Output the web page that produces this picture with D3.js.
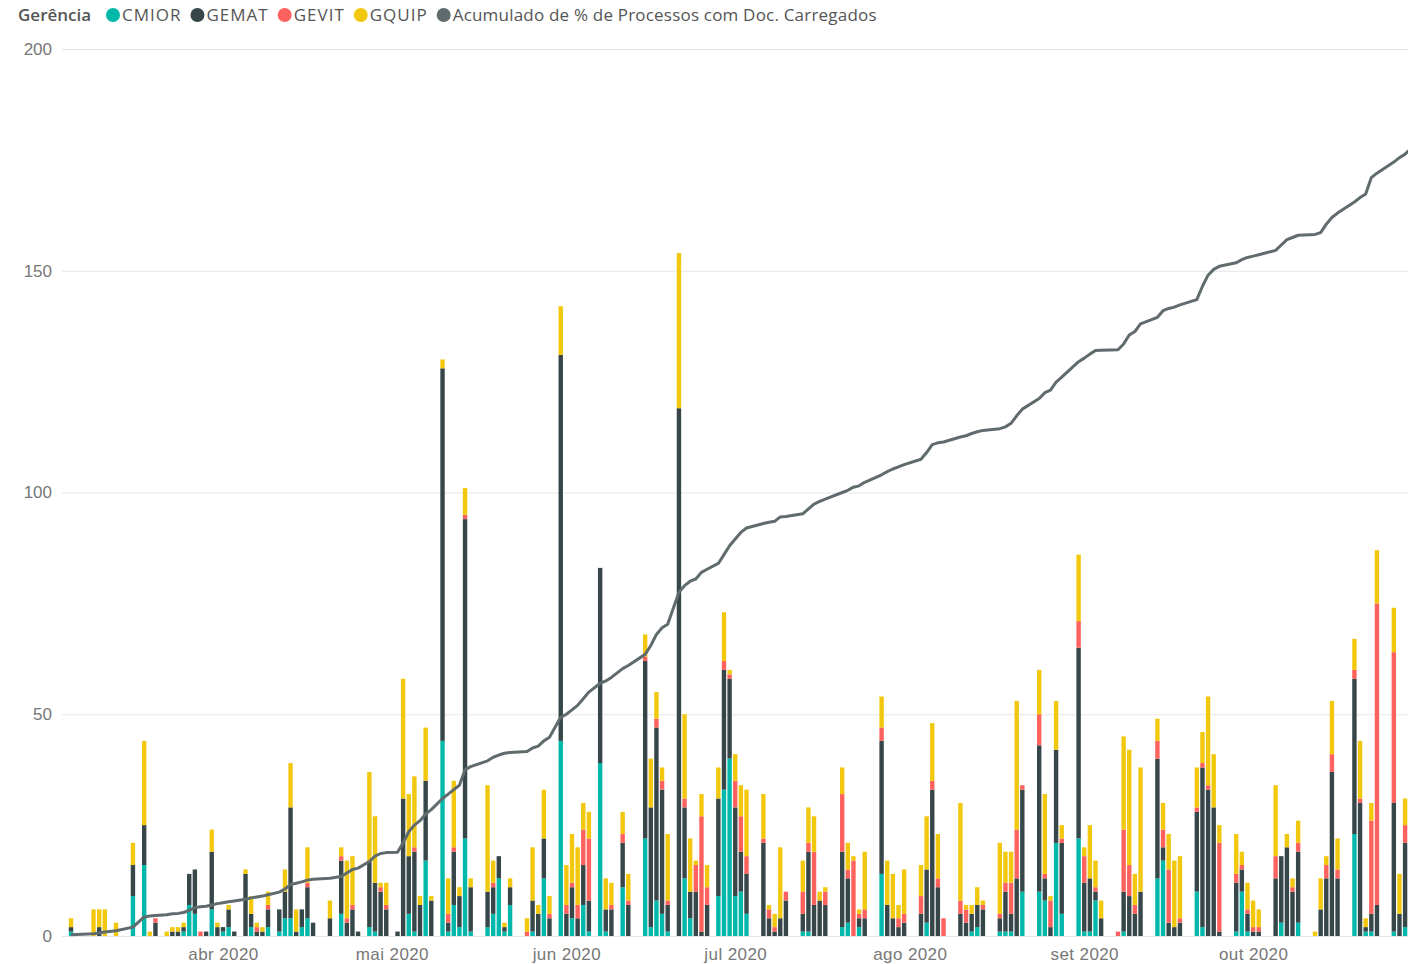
<!DOCTYPE html>
<meta charset="utf-8">
<style>
body { margin: 0; background: #fff; font-family: "Segoe UI", "Open Sans", sans-serif; }
.axis .tick text { fill: #777; font-size: 17px; }
.axis path { display: none; }
.legend text { font-size: 17px; fill: #555; }
</style>
<body>
<svg id="svg" width="1408" height="964"></svg>
<script src="https://cdnjs.cloudflare.com/ajax/libs/d3/7.8.5/d3.min.js"></script>
<script>
// days with data (2020), one month per line
const dates = [
  "03-05","03-09","03-10","03-11","03-13","03-16","03-18","03-19","03-20","03-22","03-23","03-24","03-25","03-26","03-27","03-28","03-29","03-30","03-31",
  "04-01","04-02","04-03","04-05","04-06","04-07","04-08","04-09","04-11","04-12","04-13","04-14","04-15","04-16","04-17","04-20","04-22","04-23","04-24","04-25","04-27","04-28","04-29","04-30",
  "05-02","05-03","05-04","05-05","05-06","05-07","05-08","05-10","05-11","05-12","05-13","05-14","05-15","05-18","05-19","05-20","05-21","05-22","05-25","05-26","05-27","05-28","05-29","05-31",
  "06-01","06-02","06-03","06-04","06-05","06-07","06-08","06-09","06-11","06-12","06-15","06-16","06-17","06-18","06-19","06-21","06-22","06-23","06-24","06-25","06-26","06-28","06-29","06-30",
  "07-01","07-02","07-03","07-06","07-07","07-08","07-09","07-10","07-13","07-14","07-15","07-16","07-17","07-20","07-21","07-22","07-23","07-24","07-27","07-28","07-29","07-30","07-31",
  "08-03","08-04","08-05","08-06","08-07","08-10","08-11","08-12","08-13","08-14","08-17","08-18","08-19","08-20","08-21","08-24","08-25","08-26","08-27","08-28","08-31",
  "09-01","09-02","09-03","09-04","09-07","09-08","09-09","09-10","09-11","09-14","09-15","09-16","09-17","09-18","09-21","09-22","09-23","09-24","09-25","09-28","09-29","09-30",
  "10-01","10-02","10-05","10-06","10-07","10-08","10-09","10-12","10-13","10-14","10-15","10-16","10-19","10-20","10-21","10-22","10-23","10-26","10-27","10-28","10-29"
];

const cmior = [
  1,0,0,0,0,9,16,0,0,0,0,0,1,7,5,0,0,6,0,
  1,2,0,0,2,0,0,2,1,4,4,0,2,4,0,0,5,0,0,0,2,1,0,0,
  0,0,5,1,0,17,0,44,1,7,2,22,1,2,5,13,1,7,0,1,0,13,0,44,
  0,4,0,7,1,39,1,0,11,0,22,2,8,5,1,0,13,4,0,0,0,9,33,40,
  9,10,5,0,0,0,0,0,1,1,0,0,0,2,3,0,2,0,14,0,0,0,0,
  0,3,0,0,0,0,0,1,2,0,1,1,1,0,10,10,8,0,21,5,22,
  1,1,8,0,0,1,0,0,0,13,17,0,0,0,10,2,0,0,0,1,10,1,
  0,0,0,3,0,0,3,0,0,0,0,0,23,0,1,1,0,1,0,2,3
];
const gemat = [
  1,0,2,0,0,7,9,0,3,0,1,1,1,7,10,0,1,13,2,
  1,4,1,14,3,1,1,4,5,6,25,1,4,7,3,4,12,3,6,1,15,11,10,6,
  1,31,13,18,7,18,8,84,2,12,7,72,10,8,6,5,1,4,0,7,5,9,4,87,
  5,7,4,9,7,44,5,6,10,7,40,27,39,28,6,119,16,6,10,1,7,22,27,18,
  20,9,9,21,4,1,4,8,4,18,7,8,7,17,10,0,2,4,30,7,4,2,3,
  5,12,33,11,0,5,3,4,5,6,3,9,4,13,23,33,5,2,21,16,43,
  11,12,2,4,0,9,9,5,10,27,3,3,2,3,18,36,33,29,1,11,5,4,
  1,1,13,15,20,10,16,0,6,13,37,13,35,30,1,4,7,29,5,19,25
];
const gevit = [
  0,0,0,0,0,0,0,0,1,0,0,0,0,0,0,1,0,0,0,
  0,0,0,0,0,1,0,1,0,0,0,0,0,1,0,0,1,1,1,0,0,0,1,1,
  0,0,0,1,0,0,0,0,2,1,0,1,0,0,1,0,0,0,1,0,0,0,1,0,
  2,1,3,8,14,0,0,1,2,1,1,0,2,2,1,0,2,0,6,26,4,0,2,1,
  6,8,4,1,2,1,0,2,5,2,12,0,3,13,2,17,1,2,3,0,0,2,2,
  4,0,2,2,4,3,3,0,0,1,1,2,7,11,1,7,1,6,0,1,6,
  6,0,1,0,1,14,7,2,0,4,4,12,0,1,1,1,1,0,20,2,1,1,
  1,1,5,0,0,1,2,0,0,3,4,2,2,1,0,21,68,34,0,4,3
];
const gquip = [
  2,6,4,6,3,5,19,1,0,1,1,1,1,0,0,0,0,5,1,
  0,1,0,1,4,1,1,3,0,5,10,5,0,8,0,4,2,13,11,0,20,15,1,5,
  0,27,14,16,2,12,1,2,8,15,2,6,2,24,5,0,1,2,3,12,2,11,4,11,
  9,11,13,6,6,0,7,5,5,6,5,11,6,3,15,35,19,12,1,5,5,7,11,1,
  6,7,15,10,1,3,16,0,7,8,8,2,1,6,6,1,1,13,7,10,10,3,10,
  7,12,13,10,0,22,1,2,4,1,16,7,7,29,0,10,18,1,11,3,15,
  2,12,6,4,0,21,26,7,28,5,6,8,15,14,9,7,20,12,4,9,3,6,
  6,4,16,0,3,2,5,1,7,2,12,7,7,13,2,4,12,10,9,6,8
];
const acumulado = [
  0.3,0.5,0.7,0.9,1.2,2.0,4.3,4.5,4.6,4.8,5.0,5.1,5.3,5.8,6.4,6.6,6.7,7.0,7.3,
  7.5,7.7,7.9,8.3,8.6,8.8,9.0,9.3,9.9,10.6,11.6,11.9,12.2,12.6,12.8,13.0,13.4,14.2,15.0,15.3,16.8,18.0,18.6,18.8,
  18.9,21,23.5,25,26,27.5,28.5,31,32,33,34,37.5,38.2,39.5,40.3,40.8,41.2,41.4,41.6,42.4,42.8,44,44.8,49.3,
  50,51,52,53.5,55,57,57.5,58.3,60.3,61,63.5,65.5,68,69.5,70.3,77.5,79,80,80.5,82,82.7,84,86,88,
  89.5,91,92,93,93.3,93.5,94.5,94.6,95.2,96.3,97.4,98,98.5,100,100.5,101.2,101.5,102.3,104,104.7,105.3,105.8,106.3,
  107.5,109,110.8,111.2,111.4,112.5,112.8,113.3,113.7,114,114.4,114.8,115.6,117.3,118.8,121.2,122.5,123.1,124.9,126,129.5,
  130.3,131.2,132,132.1,132.2,133.5,135.5,136.3,138,139.5,141,141.5,141.8,142.3,143.5,146.5,149,150.3,151,151.8,152.5,153,
  153.3,153.6,154.6,155.8,157,157.5,158,158.2,158.6,160.5,162,163,165.5,166.5,167.3,171,172,174.5,175.5,176.3,177.5
];

const seriesNames = ["CMIOR", "GEMAT", "GEVIT", "GQUIP"];
const lineName = "Acumulado de % de Processos com Doc. Carregados";
const yTicks = [0, 50, 100, 150, 200];
const monthTicks = ["2020-04-01","2020-05-01","2020-06-01","2020-07-01","2020-08-01","2020-09-01","2020-10-01"];
const monthLabels = ["abr 2020","mai 2020","jun 2020","jul 2020","ago 2020","set 2020","out 2020"];

const colors = {CMIOR: "#01B8AA", GEMAT: "#374649", GEVIT: "#FD625E", GQUIP: "#F2C80F"};
const lineColor = "#5F6B6D";

const parse = d3.utcParse("%Y-%m-%d");
const rows = dates.map((d, i) => ({
  date: parse("2020-" + d),
  CMIOR: cmior[i], GEMAT: gemat[i], GEVIT: gevit[i], GQUIP: gquip[i],
  acc: acumulado[i]
}));

const svg = d3.select("#svg");
const plot = {left: 62, right: 1408, top: 49, bottom: 936};

// continuous date axis, the right part of the chart is cut off by the frame
let x = d3.scaleUtc()
  .domain([parse("2020-03-01"), parse("2020-11-01")])
  .range([223 - 31 * 5.629, 223 + 214 * 5.629]);

let y = d3.scaleLinear()
  .domain([0, 200])
  .range([plot.bottom, plot.top]);

// y axis + gridlines
let gy = svg.append("g")
  .attr("class", "axis")
  .attr("transform", "translate(" + plot.left + ",0)")
  .call(d3.axisLeft(y)
    .tickValues(yTicks)
    .tickSize(-(plot.right - plot.left))
    .tickPadding(10));
gy.selectAll(".tick line").attr("stroke", "#e6e6e6");

// x axis labels
let gx = svg.append("g")
  .attr("class", "axis")
  .attr("transform", "translate(0," + plot.bottom + ")")
  .call(d3.axisBottom(x)
    .tickValues(monthTicks.map(parse))
    .tickFormat((d, i) => monthLabels[i])
    .tickSize(0)
    .tickPadding(12));
gx.selectAll(".tick text").attr("letter-spacing", "0.4px");

// stacked bars
let stack = d3.stack().keys(seriesNames);
let layers = stack(rows);
let barW = 4.4;

svg.append("g").selectAll("g")
  .data(layers)
  .enter().append("g")
    .attr("fill", d => colors[d.key])
  .selectAll("rect")
  .data(d => d.filter(s => s[1] > s[0]))
  .enter().append("rect")
    .attr("x", d => x(d.data.date) - barW / 2)
    .attr("y", d => y(d[1]))
    .attr("width", barW)
    .attr("height", d => y(d[0]) - y(d[1]));

// cumulative line
let line = d3.line()
  .x(d => x(d.date))
  .y(d => y(d.acc));

svg.append("path")
  .datum(rows)
  .attr("fill", "none")
  .attr("stroke", lineColor)
  .attr("stroke-width", 3)
  .attr("stroke-linejoin", "round")
  .attr("d", line);

// legend
let legend = svg.append("g").attr("class", "legend");
legend.append("text")
  .attr("x", 18).attr("y", 21)
  .attr("font-weight", "600")
  .attr("fill", "#666")
  .text("Gerência");

let items = seriesNames.map(n => ({name: n, color: colors[n], ls: 1}))
  .concat([{name: lineName, color: lineColor, ls: 0.2}]);
let cursor = 106;
items.forEach(it => {
  legend.append("circle")
    .attr("cx", cursor + 7).attr("cy", 15).attr("r", 7)
    .attr("fill", it.color);
  let t = legend.append("text")
    .attr("x", cursor + 16).attr("y", 21)
    .attr("letter-spacing", it.ls + "px")
    .text(it.name);
  cursor += 16 + t.node().getComputedTextLength() + 9;
});
</script>
</body>
